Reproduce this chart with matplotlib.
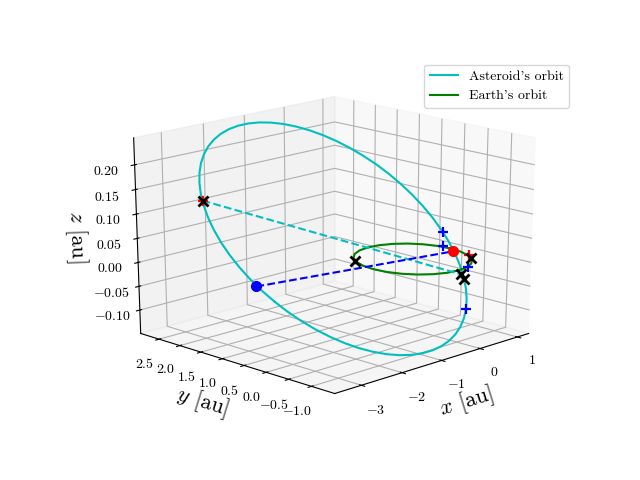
import matplotlib
matplotlib.use("Agg")
import matplotlib.pyplot as plt

plt.rcParams['font.family'] = ['cmr10', 'DejaVu Sans']
plt.rcParams['mathtext.fontset'] = 'cm'
plt.rcParams['axes.unicode_minus'] = False

# Asteroid's orbit
ast_x = [-3.108, -3.035, -2.940, -2.824, -2.689, -2.536, -2.367, -2.183, -1.987, -1.781,
         -1.566, -1.347, -1.124, -0.900, -0.678, -0.460, -0.249, -0.046, 0.145, 0.324,
         0.487, 0.633, 0.761, 0.869, 0.956, 1.020, 1.063, 1.081, 1.077, 1.049,
         0.998, 0.925, 0.829, 0.714, 0.578, 0.425, 0.256, 0.072, -0.124, -0.330,
         -0.544, -0.764, -0.987, -1.210, -1.432, -1.650, -1.862, -2.064, -2.256, -2.434,
         -2.597, -2.744, -2.871, -2.979, -3.066, -3.131, -3.173, -3.192, -3.187, -3.159, -3.108]
ast_y = [0.299, 0.072, -0.146, -0.353, -0.547, -0.726, -0.887, -1.029, -1.151, -1.250,
         -1.327, -1.380, -1.408, -1.411, -1.390, -1.344, -1.273, -1.180, -1.064, -0.927,
         -0.771, -0.597, -0.407, -0.203, 0.012, 0.237, 0.468, 0.704, 0.941, 1.178,
         1.411, 1.637, 1.856, 2.063, 2.257, 2.435, 2.597, 2.739, 2.860, 2.960,
         3.036, 3.089, 3.117, 3.121, 3.099, 3.053, 2.983, 2.889, 2.774, 2.637,
         2.481, 2.307, 2.116, 1.913, 1.697, 1.473, 1.241, 1.005, 0.768, 0.532, 0.299]
ast_z = [-0.0263, -0.0429, -0.0585, -0.0729, -0.0859, -0.0975, -0.1074, -0.1156, -0.1220, -0.1265,
         -0.1291, -0.1297, -0.1283, -0.1250, -0.1198, -0.1127, -0.1038, -0.0932, -0.0811, -0.0675,
         -0.0527, -0.0367, -0.0197, -0.0020, 0.0163, 0.0349, 0.0537, 0.0725, 0.0910, 0.1091,
         0.1266, 0.1432, 0.1587, 0.1731, 0.1862, 0.1977, 0.2077, 0.2159, 0.2223, 0.2268,
         0.2294, 0.2300, 0.2286, 0.2253, 0.2201, 0.2130, 0.2041, 0.1935, 0.1814, 0.1678,
         0.1529, 0.1369, 0.1200, 0.1023, 0.0840, 0.0654, 0.0465, 0.0278, 0.0092, -0.0089, -0.0263]

# Earth's orbit
earth_x = [1.000, 0.966, 0.866, 0.707, 0.500, 0.259, 0.000, -0.259, -0.500, -0.707, -0.866, -0.966,
           -1.000, -0.966, -0.866, -0.707, -0.500, -0.259, 0.000, 0.259, 0.500, 0.707, 0.866, 0.966, 1.000]
earth_y = [0.000, 0.259, 0.500, 0.707, 0.866, 0.966, 1.000, 0.966, 0.866, 0.707, 0.500, 0.259,
           0.000, -0.259, -0.500, -0.707, -0.866, -0.966, -1.000, -0.966, -0.866, -0.707, -0.500, -0.259, 0.000]
earth_z = [0.0] * 25

# Marked points
aph = [-2.811, 2.199, 0.1275]
peri = [0.619, -0.547, -0.0329]
node_blue = [-3.232, 0.583, 0.0]
node_red = [0.892, -0.151, 0.0]
plus_x = [1.021, 0.777, 0.887, 0.132]
plus_y = [0.184, -0.023, -0.490, -1.074]
plus_z = [0.0308, 0.0106, -0.0242, -0.0821]
red_plus_x = [-2.811, 1.100]
red_plus_y = [2.199, -0.328]
red_plus_z = [0.1275, -0.0081]
cross_x = [-2.811, -0.825, 0.790, 0.619, 0.595]
cross_y = [2.199, 0.570, -0.620, -0.547, -0.640]
cross_z = [0.1275, 0.0, 0.0, -0.0329, -0.0406]

x_ticks = [-3, -2, -1, 0, 1]
y_ticks = [-1, -0.5, 0, 0.5, 1, 1.5, 2, 2.5]
z_ticks = [-0.1, -0.05, 0, 0.05, 0.1, 0.15, 0.2]

fig = plt.figure()
ax = fig.add_subplot(projection='3d')
# stretch to the full axes box, like older matplotlib did
ax.apply_aspect = lambda position=None: None
ax.set_box_aspect((1, 1, 1), zoom=0.9467)
ax.view_init(elev=20, azim=-135)
ax.computed_zorder = False

ax.plot(ast_x, ast_y, ast_z, 'c', label="Asteroid's orbit", zorder=2)
ax.plot(earth_x, earth_y, earth_z, 'g', label="Earth's orbit", zorder=2)
ax.plot([aph[0], peri[0]], [aph[1], peri[1]], [aph[2], peri[2]], 'c--', zorder=3)
ax.plot([node_blue[0], node_red[0]], [node_blue[1], node_red[1]], [node_blue[2], node_red[2]], 'b--', zorder=3)
ax.plot([node_blue[0]], [node_blue[1]], [node_blue[2]], 'bo', ms=7, zorder=4)
ax.plot([node_red[0]], [node_red[1]], [node_red[2]], 'ro', ms=7, zorder=4)
ax.plot(plus_x, plus_y, plus_z, 'b+', ms=7.5, mew=1.6, ls='none', zorder=4)
ax.plot(red_plus_x, red_plus_y, red_plus_z, 'r+', ms=7.5, mew=1.6, ls='none', zorder=4)
ax.plot(cross_x, cross_y, cross_z, 'kx', ms=7, mew=2, ls='none', zorder=5)

ax.set_xlim(-3.64, 1.31)
ax.set_ylim(-1.5, 2.95)
ax.set_zlim(-0.15, 0.254)
ax.set_xticks(x_ticks)
ax.set_yticks(y_ticks)
ax.set_zticks(z_ticks)
ax.set_xticklabels(['$%d$' % t for t in x_ticks])
ax.set_yticklabels(['$%.1f$' % t for t in y_ticks])
ax.set_zticklabels(['$%.2f$' % t for t in z_ticks])
ax.set_xlabel('$x$ [au]', fontsize=16)
ax.set_ylabel('$y$ [au]', fontsize=16)
ax.set_zlabel('$z$ [au]', fontsize=16)
ax.legend()
fig.savefig('out.png', dpi=100)
